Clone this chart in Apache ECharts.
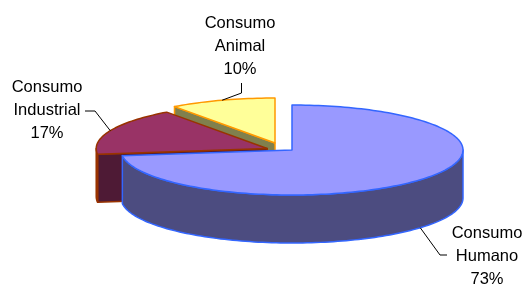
<!DOCTYPE html>
<html><head><meta charset="utf-8">
<script src="https://cdn.jsdelivr.net/npm/echarts@6/dist/echarts.min.js"></script>
<style>html,body{margin:0;padding:0;background:#fff}#c{width:528px;height:284px}</style>
</head><body><div id="c"></div>
<script>
// ---- data ----
const categories = ['Consumo Humano', 'Consumo Industrial', 'Consumo Animal'];
const values = [73, 17, 10];

// ---- style / layout ----
const topColors = ['#9999FF', '#993366', '#FFFF99'];
const sideColors = ['#4C4C80', '#4E1A35', '#80804D'];
const strokeColors = ['#3366FF', '#993300', '#FF9900'];
const explode = [0, 27, 55];          // px along slice direction
const EXPLODE_TILT = 0.134;
const CX = 292, CY = 150, RX = 171, RY = 45, DEPTH = 48;
const labelLayout = [
  { x: 487, y: 256, elbow: [440, 255], end: [447, 255], anchor: 'wallBottom' },
  { x: 47, y: 110, elbow: [95, 111], end: [85, 111], anchor: 'top' },
  { x: 240, y: 46, elbow: [241.5, 93], end: [241.5, 83], anchor: 'top' }
];

const total = values.reduce((a, b) => a + b, 0);
const starts = [];
let acc = 0;
values.forEach(v => { starts.push(90 - acc / total * 360); acc += v; });
const ends = values.map((v, i) => starts[i] - v / total * 360);
const mids = values.map((v, i) => (starts[i] + ends[i]) / 2);
const order = values.map((v, i) => i).sort((a, b) => Math.sin(mids[b] * Math.PI / 180) - Math.sin(mids[a] * Math.PI / 180));
const rank = []; order.forEach((idx, r) => { rank[idx] = r; });

function P(cx, cy, deg, dz) {
  const t = deg * Math.PI / 180;
  return [cx + RX * Math.cos(t), cy - RY * Math.sin(t) + (dz || 0)];
}
function arc(cx, cy, a, b, dz) {
  const n = Math.max(2, Math.ceil(Math.abs(b - a) / 1.5));
  const pts = [];
  for (let i = 0; i <= n; i++) pts.push(P(cx, cy, a + (b - a) * i / n, dz));
  return pts;
}

function renderItem(params, api) {
  const i = params.dataIndex;
  const v = api.value(0);
  const th1 = starts[i], th2 = ends[i], mid = mids[i];
  const mr = mid * Math.PI / 180;
  const cx = CX + explode[i] * Math.cos(mr);
  const cy = CY - explode[i] * EXPLODE_TILT * Math.sin(mr);
  const base = rank[i] * 10;
  const stroke = { stroke: strokeColors[i], lineWidth: 1.5, lineJoin: 'round' };
  const children = [];
  const C = [cx, cy], Cd = [cx, cy + DEPTH];
  // radial walls
  const sp = P(cx, cy, th1), ep = P(cx, cy, th2);
  if (Math.sin((th1 + 90) * Math.PI / 180) < -0.01) {
    children.push({ type: 'polygon', z2: base + 1, shape: { points: [C, sp, [sp[0], sp[1] + DEPTH], Cd] },
      style: Object.assign({ fill: sideColors[i] }, stroke) });
  }
  if (Math.sin((th2 - 90) * Math.PI / 180) < -0.01) {
    children.push({ type: 'polygon', z2: base + 1, shape: { points: [C, ep, [ep[0], ep[1] + DEPTH], Cd] },
      style: Object.assign({ fill: sideColors[i] }, stroke) });
  }
  // outer wall (front half)
  for (let k = -2; k <= 1; k++) {
    const lo = Math.max(-180 + 360 * k, th2), hi = Math.min(360 * k, th1);
    if (hi - lo > 0.01) {
      const pts = arc(cx, cy, hi, lo, 0).concat(arc(cx, cy, lo, hi, DEPTH));
      children.push({ type: 'polygon', z2: base + 2, shape: { points: pts },
        style: Object.assign({ fill: sideColors[i] }, stroke) });
    }
  }
  // top face
  children.push({ type: 'polygon', z2: base + 3, shape: { points: [C].concat(arc(cx, cy, th1, th2, 0)) },
    style: Object.assign({ fill: topColors[i] }, stroke) });
  // label + leader
  const L = labelLayout[i];
  const anc = L.anchor === 'wallBottom' ? P(cx, cy, mid, DEPTH) : P(cx, cy, mid, 0);
  children.push({ type: 'polyline', z2: 100, shape: { points: [anc, L.elbow, L.end] },
    style: { stroke: '#000', lineWidth: 1, fill: null } });
  children.push({ type: 'text', z2: 101, x: L.x, y: L.y,
    style: { text: categories[i].replace(' ', '\n') + '\n' + Math.round(v / total * 100) + '%',
      fill: '#000', font: '16.5px "Liberation Sans", Arial, sans-serif', lineHeight: 23,
      align: 'center', verticalAlign: 'middle' } });
  return { type: 'group', children: children };
}

const chart = echarts.init(document.getElementById('c'), null, { renderer: 'canvas' });
chart.setOption({
  animation: false,
  series: [{
    type: 'custom',
    coordinateSystem: 'none',
    silent: true,
    renderItem: renderItem,
    data: values.map((v, i) => ({ name: categories[i], value: [v, i] }))
  }]
});
</script></body></html>
